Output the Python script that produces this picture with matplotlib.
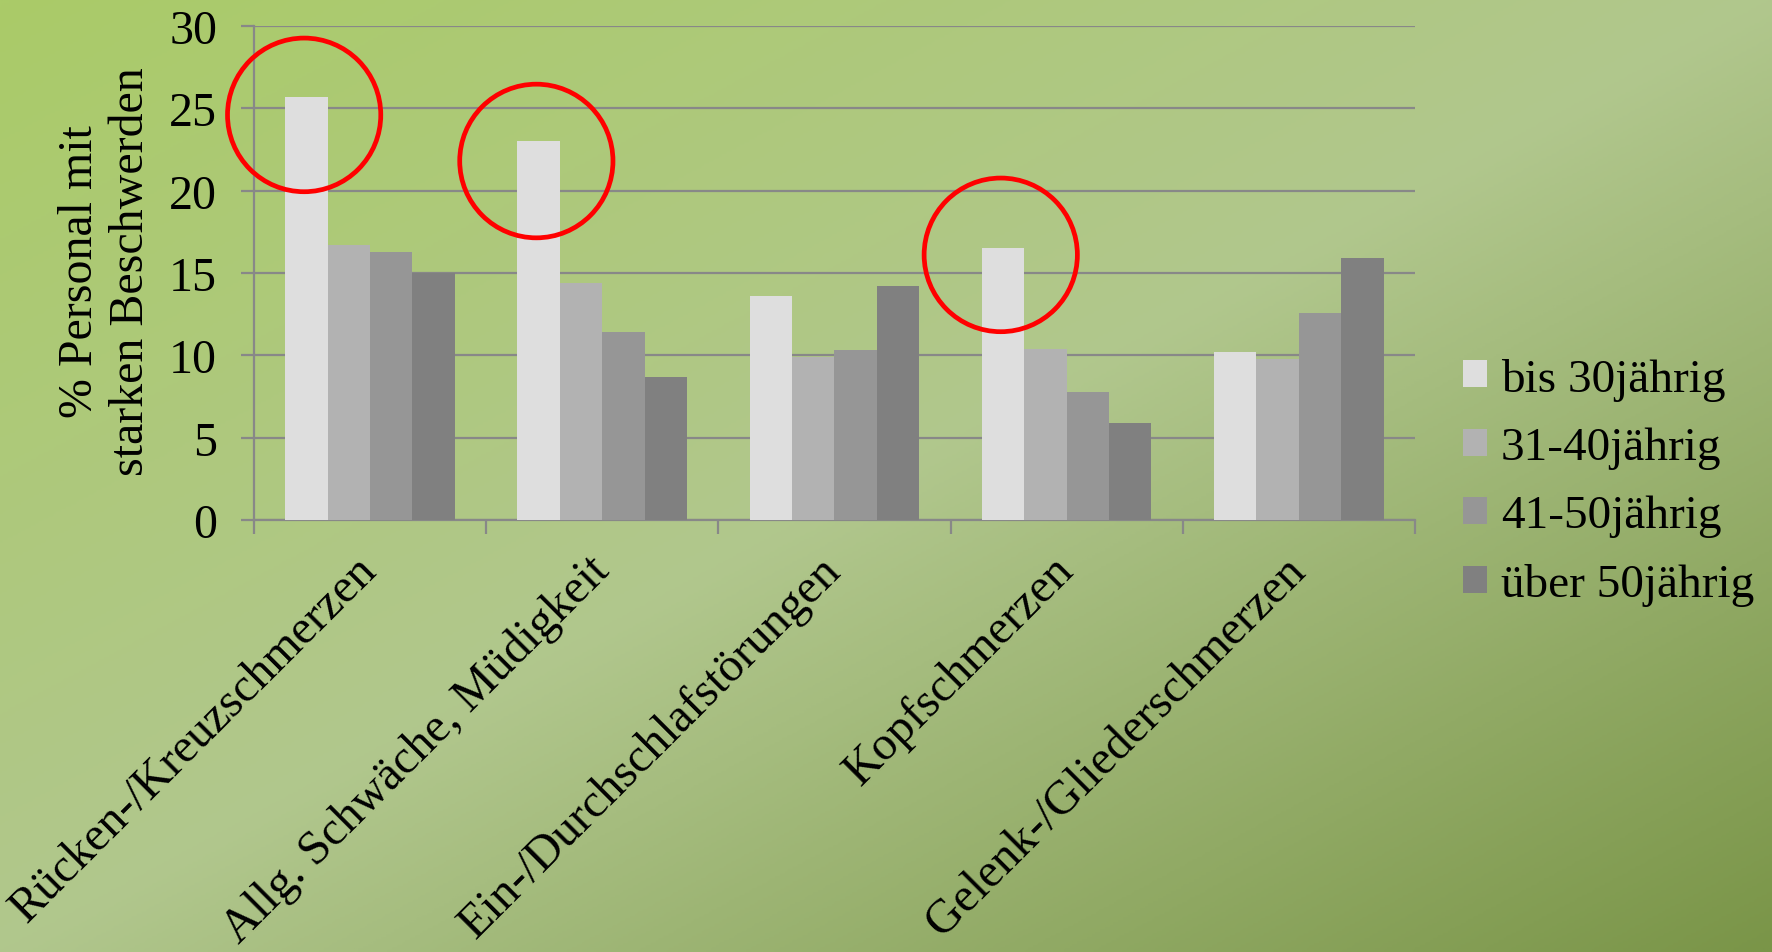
import matplotlib
matplotlib.use("Agg")
import matplotlib.pyplot as plt
import numpy as np
from matplotlib.colors import LinearSegmentedColormap
from matplotlib.patches import Ellipse, Patch

plt.rcParams['font.family'] = ['Liberation Serif', 'DejaVu Serif']

categories = ['Rücken-/Kreuzschmerzen', 'Allg. Schwäche, Müdigkeit',
              'Ein-/Durchschlafstörungen', 'Kopfschmerzen', 'Gelenk-/Gliederschmerzen']
groups = ['bis 30jährig', '31-40jährig', '41-50jährig', 'über 50jährig']
bis30 = [25.7, 23.0, 13.6, 16.5, 10.2]
j31_40 = [16.7, 14.4, 9.9, 10.4, 9.8]
j41_50 = [16.3, 11.4, 10.3, 7.8, 12.6]
ueber50 = [15.0, 8.7, 14.2, 5.9, 15.9]
highlight = [0, 1, 3]          # categories whose youngest group is circled
circle_y = [24.6, 21.8, 16.1]  # centre heights of the red circles
yticks = [0, 5, 10, 15, 20, 25, 30]

series = [bis30, j31_40, j41_50, ueber50]
colors = ['#DEDEDE', '#B2B2B2', '#969696', '#808080']

fig = plt.figure(figsize=(17.72, 9.53), dpi=100)

# diagonal gradient background
bg = fig.add_axes([0, 0, 1, 1], zorder=-10)
h, w = 400, 700
yy, xx = np.mgrid[0:h, 0:w]
t = (xx / (w - 1) + yy / (h - 1)) / 2
cmap = LinearSegmentedColormap.from_list(
    'bg', [(0.0, '#AACB68'), (0.5, '#B1C78D'), (1.0, '#7A9548')])
bg.imshow(t, cmap=cmap, aspect='auto', extent=[0, 1, 0, 1], origin='upper')
bg.axis('off')

ax = fig.add_axes([0.1433, 0.4533, 0.6552, 0.5184])
ax.set_facecolor('none')

x = np.arange(len(categories))
bw = 0.1825
for i, (vals, c, lab) in enumerate(zip(series, colors, groups)):
    ax.bar(x + (i - 1.5) * bw, vals, bw, color=c, label=lab, zorder=3)

for k, cy in zip(highlight, circle_y):
    ax.add_patch(Ellipse((x[k] - 1.5 * bw - 0.01, cy), 0.66, 9.33,
                         fill=False, edgecolor='#FF0000', lw=3.4, zorder=5,
                         clip_on=False))

ax.set_xlim(-0.5, len(categories) - 0.5)
ax.set_ylim(0, 30)
ax.set_yticks(yticks)
ax.grid(axis='y', color='#888888', lw=1.6, zorder=0)
for s in ['top', 'right']:
    ax.spines[s].set_visible(False)
for s in ['left', 'bottom']:
    ax.spines[s].set_color('#888888')
    ax.spines[s].set_linewidth(1.6)
ax.tick_params(axis='y', length=9.5, width=1.6, color='#888888', pad=17, labelsize=34.5)

ax.set_xticks(x)
ax.set_xticklabels(categories, rotation=45, ha='right', va='center',
                   rotation_mode='anchor', fontsize=34.5)
ax.tick_params(axis='x', which='major', length=0, pad=31)
ax.set_xticks(np.arange(len(categories) + 1) - 0.5, minor=True)
ax.tick_params(axis='x', which='minor', length=10, width=1.6, color='#888888')

ax.text(-0.1275, 0.505, '% Personal mit\nstarken Beschwerden', transform=ax.transAxes,
        rotation=90, ha='center', va='center', fontsize=34.5, linespacing=1.2)

handles = [Patch(facecolor=c, edgecolor='none') for c in colors]
fig.legend(handles, groups, loc='center left', bbox_to_anchor=(1463 / 1772, 1 - 483 / 953),
           frameon=False, fontsize=34, handlelength=0.5, handleheight=0.5,
           handletextpad=0.3, labelspacing=0.55, borderpad=0, borderaxespad=0)

fig.savefig('out.png', dpi=100)
